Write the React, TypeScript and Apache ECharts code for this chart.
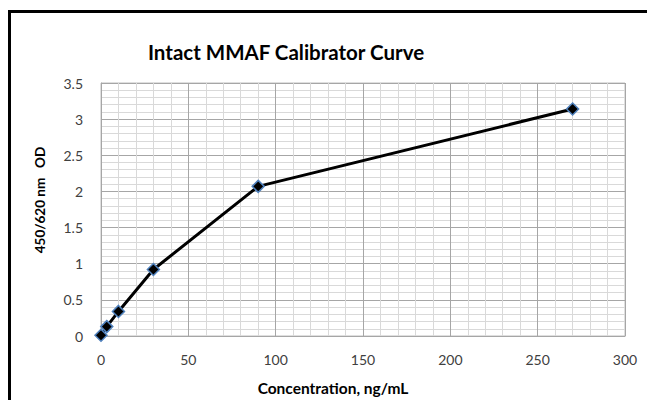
import React, { useEffect, useRef } from "react";
import * as echarts from "echarts";

const concentrations = [0, 3.3, 10, 30, 90, 270];
const odValues = [0.01, 0.13, 0.34, 0.92, 2.07, 3.14];
const titleText = "Intact MMAF Calibrator Curve";
const xAxisTitle = "Concentration, ng/mL";
const yAxisTitle = "450/620 nm   OD";

export default function App() {
  const ref = useRef<HTMLDivElement>(null);
  useEffect(() => {
    if (!ref.current) return;
    const chart = echarts.init(ref.current, null, { renderer: "svg" });
    const font = "Lato, 'Open Sans', sans-serif";
    chart.setOption({
      animation: false,
      backgroundColor: "#ffffff",
      textStyle: { fontFamily: font },
      title: {
        text: titleText,
        left: 281,
        top: 36,
        textAlign: "center",
        textStyle: { fontFamily: font, fontSize: 20.5, fontWeight: "bold", color: "#000" },
      },
      grid: { left: 101, top: 83, right: 22, bottom: 64, show: true, borderColor: "#bfbfbf", borderWidth: 1 },
      xAxis: {
        type: "value",
        min: 0,
        max: 300,
        interval: 50,
        axisLine: { show: true, lineStyle: { color: "#a6a6a6" } },
        axisTick: { show: false },
        axisLabel: { fontFamily: font, fontSize: 14, color: "#404040", margin: 16 },
        splitLine: { show: true, lineStyle: { color: "#a6a6a6", width: 1 } },
        minorTick: { show: false, splitNumber: 5 },
        minorSplitLine: { show: true, lineStyle: { color: "#d9d9d9", width: 1 } },
      },
      yAxis: {
        type: "value",
        min: 0,
        max: 3.5,
        interval: 0.5,
        axisLine: { show: true, lineStyle: { color: "#a6a6a6" } },
        axisTick: { show: false },
        axisLabel: { fontFamily: font, fontSize: 14, color: "#404040", margin: 18 },
        splitLine: { show: true, lineStyle: { color: "#a6a6a6", width: 1 } },
        minorTick: { show: false, splitNumber: 5 },
        minorSplitLine: { show: true, lineStyle: { color: "#d9d9d9", width: 1 } },
      },
      series: [
        {
          type: "line",
          data: concentrations.map((c, i) => [c, odValues[i]]),
          lineStyle: { color: "#000", width: 3 },
          symbol: "diamond",
          symbolSize: 12,
          itemStyle: { color: "#000", borderColor: "#4f81bd", borderWidth: 1.5 },
          z: 5,
        },
      ],
      graphic: [
        {
          type: "text",
          x: 333,
          y: 388,
          silent: true,
          style: {
            text: xAxisTitle,
            fontFamily: font,
            fontSize: 15.5,
            fontWeight: "bold",
            fill: "#000",
            align: "center",
            verticalAlign: "middle",
          },
        },
        {
          type: "text",
          x: 40,
          y: 200,
          rotation: Math.PI / 2,
          silent: true,
          style: {
            text: yAxisTitle,
            fontFamily: font,
            fontSize: 13.5,
            fontWeight: "bold",
            fill: "#000",
            align: "center",
            verticalAlign: "middle",
          },
        },
        {
          type: "rect",
          shape: { x: 9.5, y: 11.5, width: 700, height: 500 },
          style: { fill: "none", stroke: "#000", lineWidth: 3 },
          silent: true,
          z: 100,
        },
      ],
    });
    return () => chart.dispose();
  }, []);
  return <div ref={ref} style={{ width: 647, height: 400, position: "absolute", left: 0, top: 0 }} />;
}
